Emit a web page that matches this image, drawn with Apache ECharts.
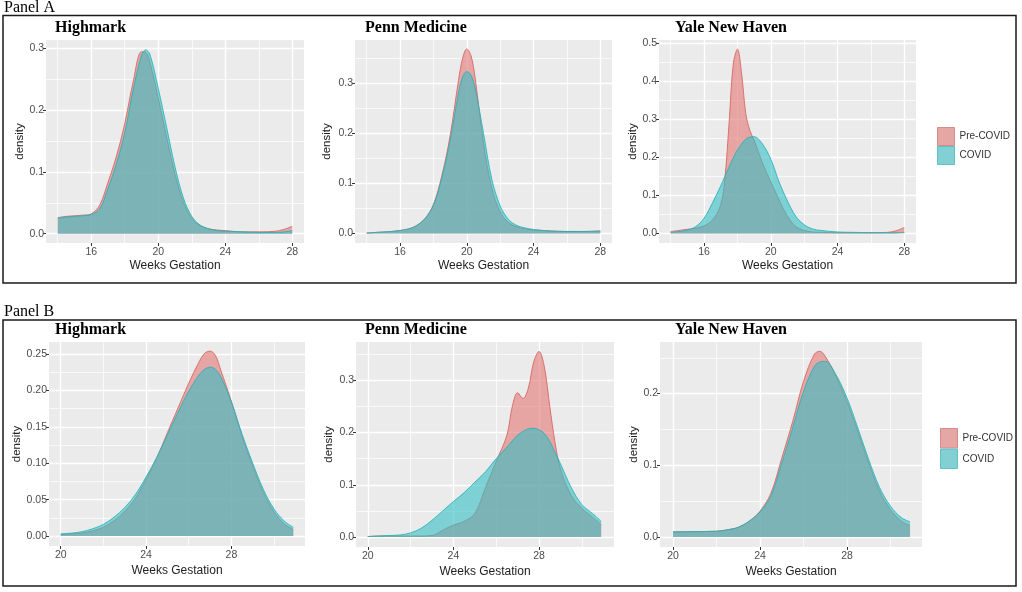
<!DOCTYPE html>
<html lang="en">
<head>
    <meta charset="UTF-8">
    <title>Weeks Gestation density, Pre-COVID vs COVID</title>
    <script src="https://cdn.jsdelivr.net/npm/echarts@6/dist/echarts.min.js"></script>
    <style>
        html, body, #chart {
            width: 100%;
            height: 100%;
            margin: 0;
            padding: 0;
            background: #fff;
        }
        body { overflow: hidden; }
    </style>
</head>
<body>
    <div id="chart"></div>
    <script>
        // ---- data ----
        // Panel A
        const weeksA_HM = [14, 14.5, 15, 15.5, 16, 16.5, 17, 17.5, 18, 18.5, 19, 19.25, 19.5, 20, 20.5, 21, 21.5, 22, 22.5, 23, 23.5, 24, 25, 26, 27, 27.5, 28];
        const preA_HM = [0.026, 0.028, 0.029, 0.030, 0.032, 0.046, 0.083, 0.125, 0.178, 0.245, 0.294, 0.293, 0.277, 0.219, 0.156, 0.096, 0.051, 0.025, 0.013, 0.008, 0.006, 0.005, 0.003, 0.003, 0.004, 0.007, 0.012];
        const covA_HM = [0.025, 0.027, 0.028, 0.029, 0.031, 0.040, 0.073, 0.113, 0.163, 0.232, 0.288, 0.297, 0.290, 0.235, 0.172, 0.108, 0.058, 0.028, 0.014, 0.008, 0.005, 0.004, 0.003, 0.002, 0.002, 0.003, 0.005];

        const weeksA_PM = [14, 14.5, 15, 15.5, 16, 16.5, 17, 17.5, 18, 18.5, 19, 19.5, 19.75, 20, 20.25, 20.5, 21, 21.5, 22, 22.5, 23, 23.5, 24, 25, 26, 27, 28];
        const preA_PM = [0.001, 0.002, 0.003, 0.004, 0.006, 0.009, 0.016, 0.030, 0.058, 0.115, 0.195, 0.305, 0.350, 0.368, 0.355, 0.310, 0.180, 0.090, 0.043, 0.022, 0.013, 0.009, 0.007, 0.005, 0.004, 0.004, 0.005];
        const covA_PM = [0.001, 0.002, 0.003, 0.004, 0.006, 0.009, 0.016, 0.030, 0.056, 0.110, 0.185, 0.280, 0.312, 0.323, 0.316, 0.290, 0.200, 0.108, 0.055, 0.028, 0.016, 0.011, 0.008, 0.005, 0.004, 0.004, 0.005];

        const weeksA_YN = [14, 14.5, 15, 15.5, 16, 16.5, 17, 17.25, 17.5, 17.75, 18, 18.25, 18.5, 18.75, 19, 19.5, 20, 20.5, 21, 21.5, 22, 22.5, 23, 24, 25, 26, 27, 27.5, 28];
        const preA_YN = [0.005, 0.008, 0.011, 0.014, 0.020, 0.035, 0.075, 0.145, 0.290, 0.445, 0.484, 0.420, 0.315, 0.270, 0.245, 0.185, 0.135, 0.088, 0.045, 0.018, 0.008, 0.004, 0.003, 0.002, 0.002, 0.002, 0.003, 0.007, 0.016];
        const covA_YN = [0.003, 0.005, 0.009, 0.018, 0.040, 0.080, 0.125, 0.150, 0.175, 0.198, 0.220, 0.235, 0.248, 0.253, 0.254, 0.235, 0.195, 0.135, 0.085, 0.045, 0.023, 0.012, 0.008, 0.004, 0.003, 0.002, 0.002, 0.002, 0.003];

        // Panel B
        const weeksB_HM = [20, 20.5, 21, 21.5, 22, 22.5, 23, 23.5, 24, 24.5, 25, 25.5, 26, 26.5, 26.75, 27, 27.25, 27.5, 28, 28.5, 29, 29.5, 30, 30.5, 30.9];
        const preB_HM = [0.002, 0.003, 0.004, 0.007, 0.012, 0.021, 0.034, 0.052, 0.078, 0.107, 0.142, 0.176, 0.210, 0.240, 0.251, 0.254, 0.248, 0.228, 0.185, 0.137, 0.096, 0.060, 0.033, 0.016, 0.009];
        const covB_HM = [0.003, 0.004, 0.006, 0.010, 0.016, 0.026, 0.039, 0.057, 0.081, 0.108, 0.139, 0.170, 0.199, 0.222, 0.229, 0.232, 0.229, 0.219, 0.184, 0.140, 0.100, 0.064, 0.037, 0.020, 0.012];

        const weeksB_PM = [20, 20.5, 21, 21.5, 22, 22.5, 23, 23.5, 24, 24.5, 25, 25.5, 26, 26.5, 26.75, 27, 27.25, 27.5, 27.75, 28, 28.25, 28.5, 28.75, 29, 29.5, 30, 30.5, 30.9];
        const preB_PM = [0.001, 0.002, 0.002, 0.002, 0.002, 0.002, 0.003, 0.013, 0.023, 0.030, 0.045, 0.095, 0.145, 0.195, 0.250, 0.276, 0.265, 0.285, 0.335, 0.355, 0.325, 0.250, 0.180, 0.130, 0.080, 0.055, 0.038, 0.024];
        const covB_PM = [0.001, 0.002, 0.003, 0.004, 0.008, 0.017, 0.032, 0.050, 0.068, 0.085, 0.105, 0.125, 0.150, 0.172, 0.184, 0.195, 0.202, 0.207, 0.208, 0.205, 0.198, 0.183, 0.162, 0.140, 0.095, 0.062, 0.045, 0.030];

        const weeksB_YN = [20, 21, 22, 22.5, 23, 23.5, 24, 24.5, 25, 25.5, 26, 26.5, 26.75, 27, 27.5, 28, 28.5, 29, 29.5, 30, 30.5, 30.9];
        const preB_YN = [0.007, 0.0075, 0.008, 0.010, 0.0135, 0.022, 0.036, 0.061, 0.110, 0.161, 0.217, 0.255, 0.259, 0.252, 0.224, 0.189, 0.147, 0.103, 0.064, 0.038, 0.022, 0.016];
        const covB_YN = [0.007, 0.0075, 0.008, 0.010, 0.0135, 0.022, 0.035, 0.057, 0.103, 0.152, 0.203, 0.238, 0.244, 0.245, 0.226, 0.194, 0.152, 0.108, 0.069, 0.043, 0.027, 0.021];

        // tick labels
        const xMajorA = [16, 20, 24, 28];
        const xMinorA = [14, 18, 22, 26];
        const xMajorB = [20, 24, 28];
        const xMinorB = [22, 26, 30];

        const seriesNames = ['Pre-COVID', 'COVID'];
        const hospitals = ['Highmark', 'Penn Medicine', 'Yale New Haven'];

        // ---- layout ----
        const SANS = 'Liberation Sans, Arial, sans-serif';
        const SERIF = 'Liberation Serif, Times New Roman, serif';

        const panels = [
            { rect: [46, 40, 258, 203], x: [13.3, 28.7], y: [-0.015, 0.313], weeks: weeksA_HM, pre: preA_HM, cov: covA_HM,
              xMaj: xMajorA, xMin: xMinorA, yMaj: [0, 0.1, 0.2, 0.3], yMin: [0.05, 0.15, 0.25], dec: 1, yGap: 20, xGap: 17 },
            { rect: [355, 40, 257, 203], x: [13.3, 28.7], y: [-0.019, 0.386], weeks: weeksA_PM, pre: preA_PM, cov: covA_PM,
              xMaj: xMajorA, xMin: xMinorA, yMaj: [0, 0.1, 0.2, 0.3], yMin: [0.05, 0.15, 0.25, 0.35], dec: 1, yGap: 22, xGap: 17 },
            { rect: [659, 40, 257, 203], x: [13.3, 28.7], y: [-0.025, 0.508], weeks: weeksA_YN, pre: preA_YN, cov: covA_YN,
              xMaj: xMajorA, xMin: xMinorA, yMaj: [0, 0.1, 0.2, 0.3, 0.4, 0.5], yMin: [0.05, 0.15, 0.25, 0.35, 0.45], dec: 1, yGap: 20, xGap: 17 },
            { rect: [49, 342, 256, 204], x: [19.45, 31.45], y: [-0.0137, 0.2665], weeks: weeksB_HM, pre: preB_HM, cov: covB_HM,
              xMaj: xMajorB, xMin: xMinorB, yMaj: [0, 0.05, 0.1, 0.15, 0.2, 0.25], yMin: [0.025, 0.075, 0.125, 0.175, 0.225], dec: 2, yGap: 23, xGap: 19 },
            { rect: [356, 342, 258, 205], x: [19.45, 31.5], y: [-0.019, 0.373], weeks: weeksB_PM, pre: preB_PM, cov: covB_PM,
              xMaj: xMajorB, xMin: xMinorB, yMaj: [0, 0.1, 0.2, 0.3], yMin: [0.05, 0.15, 0.25, 0.35], dec: 1, yGap: 21, xGap: 19 },
            { rect: [660, 342, 262, 205], x: [19.4, 31.45], y: [-0.014, 0.272], weeks: weeksB_YN, pre: preB_YN, cov: covB_YN,
              xMaj: xMajorB, xMin: xMinorB, yMaj: [0, 0.1, 0.2], yMin: [0.05, 0.15, 0.25], dec: 1, yGap: 19, xGap: 19 }
        ];

        const preFill = 'rgba(227,117,115,0.6)';
        const preLine = 'rgba(212,100,96,0.85)';
        const covFill = 'rgba(52,190,195,0.6)';
        const covLine = 'rgba(36,178,184,0.85)';

        const grids = [], xAxes = [], yAxes = [], series = [];

        panels.forEach(function (p, i) {
            grids.push({
                left: p.rect[0], top: p.rect[1], width: p.rect[2], height: p.rect[3],
                show: true, backgroundColor: '#EBEBEB', borderWidth: 0
            });

            // major x axis (labels, ticks, major grid lines)
            xAxes.push({
                type: 'value', gridIndex: i, min: p.x[0], max: p.x[1],
                axisLine: { show: false, onZero: false },
                axisTick: { show: true, length: 3, lineStyle: { color: '#333', width: 1 }, customValues: p.xMaj },
                axisLabel: { customValues: p.xMaj, margin: 4, color: '#4D4D4D', fontSize: 10.5, fontFamily: SANS },
                splitLine: { show: true, lineStyle: { color: '#fff', width: 1.4 } },
                name: 'Weeks Gestation', nameLocation: 'middle', nameGap: p.xGap,
                nameTextStyle: { color: '#222', fontSize: 12, fontFamily: SANS }
            });
            // minor x grid lines
            xAxes.push({
                type: 'value', gridIndex: i, min: p.x[0], max: p.x[1], position: 'bottom',
                axisLine: { show: false, onZero: false },
                axisTick: { show: false, customValues: p.xMin },
                axisLabel: { show: false },
                splitLine: { show: true, lineStyle: { color: '#fff', width: 0.7 } }
            });

            yAxes.push({
                type: 'value', gridIndex: i, min: p.y[0], max: p.y[1],
                axisLine: { show: false, onZero: false },
                axisTick: { show: true, length: 3, lineStyle: { color: '#333', width: 1 }, customValues: p.yMaj },
                axisLabel: {
                    customValues: p.yMaj, margin: 2, color: '#4D4D4D', fontSize: 10.5, fontFamily: SANS,
                    formatter: function (v) { return Number(v).toFixed(p.dec); }
                },
                splitLine: { show: true, lineStyle: { color: '#fff', width: 1.4 } },
                name: 'density', nameLocation: 'middle', nameGap: p.yGap,
                nameTextStyle: { color: '#222', fontSize: 11.5, fontFamily: SANS }
            });
            yAxes.push({
                type: 'value', gridIndex: i, min: p.y[0], max: p.y[1], position: 'left',
                axisLine: { show: false, onZero: false },
                axisTick: { show: false, customValues: p.yMin },
                axisLabel: { show: false },
                splitLine: { show: true, lineStyle: { color: '#fff', width: 0.7 } }
            });

            series.push({
                name: seriesNames[0], type: 'line', xAxisIndex: i * 2, yAxisIndex: i * 2,
                data: p.weeks.map(function (w, k) { return [w, p.pre[k]]; }),
                smooth: 0.35, symbol: 'none', silent: true,
                itemStyle: { color: preLine },
                lineStyle: { color: preLine, width: 1 },
                areaStyle: { color: preFill, opacity: 1 },
                z: 2
            });
            series.push({
                name: seriesNames[1], type: 'line', xAxisIndex: i * 2, yAxisIndex: i * 2,
                data: p.weeks.map(function (w, k) { return [w, p.cov[k]]; }),
                smooth: 0.35, symbol: 'none', silent: true,
                itemStyle: { color: covLine },
                lineStyle: { color: covLine, width: 1 },
                areaStyle: { color: covFill, opacity: 1 },
                z: 3
            });
        });

        function legendAt(left, top, h) {
            return {
                left: left, top: top, orient: 'vertical', padding: 0,
                itemWidth: 17, itemHeight: h, itemGap: 0, selectedMode: false,
                textStyle: { color: '#333', fontSize: 10, fontFamily: SANS },
                data: [
                    { name: seriesNames[0], icon: 'rect', itemStyle: { color: '#E5A7A4', borderColor: '#D48C88', borderWidth: 1 } },
                    { name: seriesNames[1], icon: 'rect', itemStyle: { color: '#82D0D3', borderColor: '#5EC2C6', borderWidth: 1 } }
                ]
            };
        }

        // titles and panel frames
        const titleX = [55, 365, 675];
        const graphics = [
            { type: 'rect', shape: { x: 3, y: 15.5, width: 1013, height: 267.5 }, style: { fill: 'none', stroke: '#1a1a1a', lineWidth: 1.5 } },
            { type: 'rect', shape: { x: 3, y: 320, width: 1013, height: 266 }, style: { fill: 'none', stroke: '#1a1a1a', lineWidth: 1.5 } },
            { type: 'text', x: 4, y: 8, style: { text: 'Panel A', font: '16px ' + SERIF, fill: '#000', verticalAlign: 'middle' } },
            { type: 'text', x: 4, y: 312, style: { text: 'Panel B', font: '16px ' + SERIF, fill: '#000', verticalAlign: 'middle' } }
        ];
        [28, 330].forEach(function (ty) {
            hospitals.forEach(function (h, k) {
                graphics.push({ type: 'text', x: titleX[k], y: ty, style: { text: h, font: 'bold 16px ' + SERIF, fill: '#000', verticalAlign: 'middle' } });
            });
        });

        var chart = echarts.init(document.getElementById('chart'));
        chart.setOption({
            animation: false,
            backgroundColor: '#fff',
            grid: grids,
            xAxis: xAxes,
            yAxis: yAxes,
            legend: [legendAt(937, 127, 18), legendAt(940, 428, 19.5)],
            graphic: graphics,
            series: series
        });
        window.addEventListener('resize', function () { chart.resize(); });
    </script>
</body>
</html>
